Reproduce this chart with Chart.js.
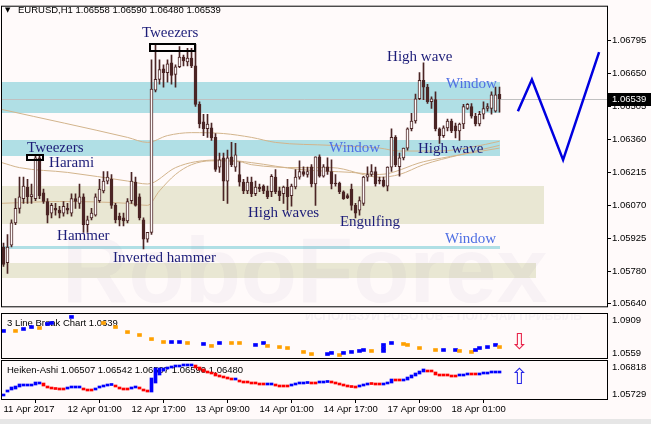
<!DOCTYPE html>
<html>
<head>
<meta charset="utf-8">
<script src="https://cdn.jsdelivr.net/npm/chart.js@4.4.1/dist/chart.umd.min.js"></script>
<style>
  html, body { margin: 0; padding: 0; background: #fffafa; }
  #wrap { position: relative; width: 651px; height: 424px; overflow: hidden; background: #fffafa; }
  canvas { position: absolute; left: 0; }
  #strip { position: absolute; left: 0; top: 419px; width: 651px; height: 5px; background: #e6e6e6; }
</style>
</head>
<body>
<div id="wrap">
  <canvas id="main" width="651" height="313" style="top:0"></canvas>
  <canvas id="lb" width="651" height="47" style="top:312px"></canvas>
  <canvas id="ha" width="651" height="65" style="top:359px"></canvas>
  <div id="strip"></div>
</div>
<script>
// EURUSD H1 candles, one per hour from 11 Apr 09:00
const opens = [
  1.05887,1.05818,1.05895,1.05993,1.06057,1.06100,1.06151,1.06108,1.06100,1.06279,
  1.06125,1.06087,1.06036,1.06057,1.06049,1.06036,1.06057,1.06036,1.06100,1.06079,
  1.06108,1.05985,1.06015,1.06027,1.06091,1.06134,1.06177,1.06185,1.06070,1.06023,
  1.06015,1.06002,1.06091,1.06172,1.06108,1.06006,1.05921,1.05951,1.06577,1.06624,
  1.06671,1.06654,1.06697,1.06646,1.06680,1.06722,1.06701,1.06718,1.06684,1.06514,
  1.06437,1.06407,1.06411,1.06369,1.06238,1.06279,1.06177,1.06283,1.06238,1.06206,
  1.06172,1.06134,1.06172,1.06121,1.06151,1.06155,1.06134,1.06130,1.06194,1.06134,
  1.06121,1.06151,1.06113,1.06151,1.06194,1.06219,1.06206,1.06240,1.06164,1.06283,
  1.06198,1.06240,1.06219,1.06168,1.06168,1.06130,1.06113,1.06142,1.06070,1.06049,
  1.06079,1.06194,1.06206,1.06219,1.06181,1.06181,1.06155,1.06238,1.06369,1.06240,
  1.06279,1.06322,1.06407,1.06441,1.06539,1.06620,1.06590,1.06526,1.06535,1.06407,
  1.06377,1.06411,1.06441,1.06420,1.06398,1.06428,1.06496,1.06505,1.06462,1.06428,
  1.06471,1.06496,1.06496,1.06484,1.06558
];
const highs = [
  1.05904,1.05942,1.06006,1.06100,1.06194,1.06194,1.06185,1.06164,1.06292,1.06292,
  1.06142,1.06100,1.06079,1.06079,1.06066,1.06087,1.06079,1.06121,1.06121,1.06164,
  1.06121,1.06023,1.06057,1.06121,1.06185,1.06219,1.06219,1.06206,1.06079,1.06036,
  1.06036,1.06100,1.06215,1.06194,1.06121,1.06015,1.05951,1.06710,1.06778,1.06710,
  1.06688,1.06710,1.06731,1.06688,1.06769,1.06731,1.06761,1.06761,1.06778,1.06526,
  1.06471,1.06471,1.06432,1.06386,1.06300,1.06300,1.06313,1.06347,1.06343,1.06262,
  1.06185,1.06194,1.06194,1.06177,1.06164,1.06160,1.06155,1.06206,1.06228,1.06151,
  1.06155,1.06185,1.06164,1.06228,1.06266,1.06240,1.06238,1.06249,1.06283,1.06292,
  1.06249,1.06279,1.06270,1.06206,1.06172,1.06134,1.06121,1.06164,1.06079,1.06108,
  1.06198,1.06240,1.06249,1.06238,1.06194,1.06194,1.06240,1.06407,1.06377,1.06300,
  1.06322,1.06411,1.06475,1.06560,1.06654,1.06697,1.06603,1.06548,1.06569,1.06411,
  1.06420,1.06450,1.06450,1.06432,1.06432,1.06514,1.06518,1.06518,1.06475,1.06484,
  1.06526,1.06518,1.06569,1.06590,1.06590
];
const lows = [
  1.05801,1.05771,1.05887,1.05985,1.06036,1.06079,1.06079,1.06079,1.06091,1.06100,
  1.06079,1.05993,1.06015,1.06027,1.06015,1.06023,1.06032,1.06023,1.06057,1.06057,
  1.05951,1.05951,1.06006,1.06023,1.06083,1.06125,1.06164,1.06057,1.05993,1.05980,
  1.05980,1.05993,1.06079,1.06066,1.06006,1.05878,1.05908,1.05942,1.06569,1.06603,
  1.06590,1.06612,1.06603,1.06590,1.06676,1.06684,1.06684,1.06676,1.06505,1.06411,
  1.06377,1.06369,1.06356,1.06219,1.06215,1.06091,1.06079,1.06240,1.06219,1.06155,
  1.06121,1.06121,1.06108,1.06113,1.06130,1.06121,1.06100,1.06108,1.06121,1.06091,
  1.06079,1.06049,1.06066,1.06142,1.06185,1.06198,1.06194,1.06151,1.06070,1.06194,
  1.06194,1.06206,1.06142,1.06155,1.06121,1.06096,1.06100,1.06049,1.06015,1.06027,
  1.06070,1.06177,1.06198,1.06155,1.06164,1.06151,1.06134,1.06219,1.06240,1.06198,
  1.06270,1.06313,1.06398,1.06432,1.06535,1.06535,1.06518,1.06496,1.06398,1.06343,
  1.06369,1.06398,1.06390,1.06367,1.06356,1.06407,1.06492,1.06454,1.06420,1.06420,
  1.06450,1.06484,1.06471,1.06480,1.06480
];
const closes = [
  1.05810,1.05887,1.05993,1.06057,1.06108,1.06155,1.06108,1.06117,1.06279,1.06113,
  1.06087,1.06027,1.06070,1.06049,1.06036,1.06066,1.06049,1.06100,1.06087,1.06108,
  1.05985,1.06006,1.06036,1.06108,1.06142,1.06177,1.06194,1.06070,1.06006,1.06006,
  1.06002,1.06087,1.06177,1.06070,1.06015,1.05921,1.05951,1.06582,1.06624,1.06667,
  1.06654,1.06693,1.06642,1.06680,1.06722,1.06705,1.06718,1.06684,1.06514,1.06428,
  1.06407,1.06428,1.06367,1.06228,1.06270,1.06177,1.06279,1.06249,1.06292,1.06172,
  1.06134,1.06172,1.06121,1.06151,1.06142,1.06134,1.06108,1.06198,1.06130,1.06113,
  1.06151,1.06108,1.06155,1.06194,1.06219,1.06206,1.06219,1.06164,1.06283,1.06198,
  1.06240,1.06219,1.06164,1.06164,1.06130,1.06100,1.06104,1.06070,1.06036,1.06091,
  1.06194,1.06206,1.06219,1.06164,1.06177,1.06155,1.06238,1.06369,1.06249,1.06279,
  1.06322,1.06407,1.06441,1.06539,1.06620,1.06590,1.06526,1.06539,1.06407,1.06377,
  1.06411,1.06441,1.06398,1.06398,1.06428,1.06505,1.06514,1.06462,1.06428,1.06471,
  1.06496,1.06505,1.06556,1.06556,1.06539
];
const lastPrice = 1.06539;

// moving averages, read at a few bars
const maAIdx = [-0.4,31,36,41,47,55,62,68,82,94,99,109,117,124];
const maAVal = [1.06492,1.06369,1.06347,1.06377,1.06390,1.06386,1.06369,1.06347,1.06334,1.06322,1.06309,1.06309,1.06326,1.06352];
const maBIdx = [-0.4,4,16,31,36,43,48,55,62,74,87,94,105,114,124];
const maBVal = [1.06258,1.06236,1.06215,1.06177,1.06164,1.06236,1.06262,1.06270,1.06258,1.06228,1.06215,1.06206,1.06262,1.06292,1.06322];
const maCIdx = [-0.4,14,31,36,39,43,47,52,59,62,74,82,94,99,105,114,124];
const maCVal = [1.06079,1.06087,1.06079,1.06070,1.06134,1.06206,1.06249,1.06266,1.06262,1.06249,1.06236,1.06236,1.06194,1.06206,1.06249,1.06292,1.06334];

// forecast zigzag
const zigIdx = [128.6,132.1,139.9,148.9];
const zigVal = [1.06484,1.06624,1.06270,1.06744];

// price zones
const zoneHigh = [1.06612,1.06356,1.06155,1.05893,1.05818];
const zoneLow  = [1.06475,1.06287,1.05989,1.05878,1.05750];
const zoneEnd  = [124.2,124.2,135,124.2,133];
const zoneKind = ['blue','blue','sand','blue','sand'];

// pattern notes
const noteText  = ['Tweezers','Tweezers','Harami','Hammer','Inverted hammer','High waves','Engulfing','Window','High wave','Window','High wave','Window'];
const noteIdx   = [34.6,5.9,11.4,13.4,27.4,61.1,84.1,81.4,95.9,110.6,103.6,110.4];
const notePrice = [1.06829,1.06324,1.06258,1.05933,1.05840,1.06036,1.05997,1.06322,1.06722,1.06605,1.06317,1.05921];
const boxFrom = [36.6,5.9];
const boxTo   = [47.9,9.9];
const boxHigh = [1.06778,1.06292];
const boxLow  = [1.06748,1.06270];

// 3 line break pane
const lbIdx = [0,3,5,7,9,11,12,17,25,28,31,34,37,40,42,44,46,50,52,54,57,59,63,65,66,69,
  71,75,77,81,82,84,85,87,89,90,92,95,95,95,97,100,101,104,108,110,113,114,117,118,119,121,123,124];
const lbVal = [1.0771,1.0771,1.0787,1.0803,1.0795,1.0828,1.0836,1.0885,1.0836,1.0803,1.0762,1.0738,1.0705,1.0681,
  1.0681,1.0681,1.0673,1.0665,1.0649,1.0673,1.0673,1.0673,1.0657,1.0673,1.0649,1.0640,
  1.0632,1.0600,1.0583,1.0583,1.0592,1.0575,1.0592,1.0600,1.0608,1.0616,1.0608,
  1.0608,1.0632,1.0657,1.0673,1.0665,1.0657,1.0632,1.0616,1.0616,1.0616,1.0608,
  1.0600,1.0616,1.0632,1.0640,1.0657,1.0640];
const lbUp = [1,0,1,1,0,1,1,1,0,0,0,0,0,0,1,1,0,1,0,1,0,0,1,1,0,0,
  0,0,0,1,1,0,1,1,1,1,0,1,1,1,1,0,0,0,0,1,1,0,0,1,1,1,1,0];

// Heiken-Ashi pane
const haOpen = [
  1.05815,1.05929,1.05987,1.06015,1.06073,1.06101,1.06101,1.06101,1.06130,1.06159,
  1.06187,1.06101,1.06044,1.06015,1.06015,1.06015,1.06015,1.06044,1.06044,1.06044,
  1.06044,1.05987,1.05987,1.05987,1.06044,1.06073,1.06101,1.06116,1.06130,1.06073,
  1.06044,1.06015,1.06015,1.06044,1.06073,1.06015,1.05987,1.05929,1.06187,1.06417,
  1.06531,1.06589,1.06617,1.06646,1.06646,1.06675,1.06675,1.06675,1.06703,1.06646,
  1.06589,1.06531,1.06503,1.06474,1.06417,1.06388,1.06359,1.06331,1.06273,1.06273,
  1.06245,1.06216,1.06216,1.06187,1.06159,1.06159,1.06130,1.06130,1.06130,1.06101,
  1.06101,1.06101,1.06101,1.06130,1.06159,1.06159,1.06173,1.06187,1.06187,1.06187,
  1.06187,1.06202,1.06216,1.06187,1.06159,1.06130,1.06101,1.06101,1.06073,1.06073,
  1.06101,1.06130,1.06159,1.06159,1.06159,1.06130,1.06159,1.06187,1.06302,1.06273,
  1.06245,1.06273,1.06331,1.06388,1.06445,1.06503,1.06560,1.06531,1.06503,1.06445,
  1.06417,1.06417,1.06388,1.06388,1.06388,1.06388,1.06417,1.06445,1.06445,1.06417,
  1.06445,1.06445,1.06474,1.06474,1.06474
];
const haClose = [
  1.05872,1.05987,1.06073,1.06101,1.06159,1.06159,1.06130,1.06130,1.06216,1.06216,
  1.06101,1.06044,1.06015,1.06001,1.05987,1.05987,1.06044,1.06058,1.06073,1.06073,
  1.05987,1.05958,1.05958,1.06044,1.06101,1.06130,1.06130,1.06130,1.06073,1.06015,
  1.05987,1.05987,1.06073,1.06101,1.06015,1.05958,1.05929,1.06331,1.06617,1.06617,
  1.06617,1.06646,1.06675,1.06675,1.06703,1.06703,1.06703,1.06703,1.06617,1.06560,
  1.06503,1.06474,1.06445,1.06388,1.06359,1.06331,1.06302,1.06273,1.06302,1.06216,
  1.06187,1.06187,1.06159,1.06159,1.06130,1.06130,1.06159,1.06159,1.06101,1.06073,
  1.06073,1.06073,1.06130,1.06159,1.06187,1.06187,1.06187,1.06159,1.06159,1.06216,
  1.06216,1.06216,1.06187,1.06159,1.06130,1.06101,1.06073,1.06058,1.06044,1.06101,
  1.06159,1.06187,1.06144,1.06130,1.06130,1.06159,1.06216,1.06302,1.06245,1.06245,
  1.06302,1.06359,1.06417,1.06474,1.06531,1.06589,1.06503,1.06503,1.06417,1.06388,
  1.06388,1.06388,1.06359,1.06359,1.06417,1.06445,1.06445,1.06417,1.06417,1.06445,
  1.06474,1.06474,1.06503,1.06503,1.06503
];

// axes
const mainTicks = [1.05640,1.05780,1.05925,1.06070,1.06215,1.06360,1.06505,1.06650,1.06795];
const lbTicks = [1.0909,1.0559];
const haTicks = [1.06818,1.05729];
const tickIdx = [0,16,32,48,64,80,96,112];
const tickText = ['11 Apr 2017','12 Apr 01:00','12 Apr 17:00','13 Apr 09:00','14 Apr 01:00','14 Apr 17:00','17 Apr 09:00','18 Apr 01:00'];

const BG = '#fffafa';
const INK = '#4b2525';
const TAN = '#d2b48c';
const ZONE_BLUE = '#b0dfe5';
const ZONE_SAND = '#e9e7d3';
const AX_FONT = '9.5px "Liberation Sans", Arial, sans-serif';
const X_MIN = -0.375, X_MAX = 150.875;

function paintBg(c) {
  const ctx = c.ctx;
  ctx.save();
  ctx.fillStyle = BG;
  ctx.fillRect(0, 0, c.width, c.height);
  ctx.restore();
}

function frame(c) {
  const {ctx, chartArea: a} = c;
  ctx.save();
  ctx.strokeStyle = '#000';
  ctx.lineWidth = 1;
  ctx.strokeRect(a.left - 0.5, a.top - 0.5, a.right - a.left + 1, a.bottom - a.top + 1);
  ctx.restore();
}

function paneLabels(c, values) {
  const {ctx, chartArea: a, scales: {y}} = c;
  ctx.save();
  ctx.font = AX_FONT;
  ctx.fillStyle = '#000';
  ctx.textAlign = 'left';
  ctx.textBaseline = 'middle';
  values.forEach(v => {
    let py = y.getPixelForValue(v);
    py = Math.max(a.top + 6, Math.min(a.bottom - 5, py));
    ctx.fillText(v.toString(), a.right + 5, py);
  });
  ctx.restore();
}

function xAxis(show) {
  const axis = {
    type: 'linear', min: X_MIN, max: X_MAX, display: show, offset: false,
    afterBuildTicks: s => { s.ticks = tickIdx.map(v => ({value: v})); },
    ticks: {
      autoSkip: false, maxRotation: 0, align: 'start', padding: 1, color: '#000',
      font: {family: '"Liberation Sans", Arial, sans-serif', size: 9.5},
      callback: (v, i) => tickText[i]
    },
    grid: {drawOnChartArea: false, drawTicks: true, tickLength: 4, color: '#000'},
    border: {display: false}
  };
  if (show) axis.afterFit = s => { s.height = 25; };
  return axis;
}

function sideAxis(min, max) {
  return {
    position: 'right', min: min, max: max,
    afterFit: s => { s.width = 44; },
    ticks: {display: false},
    grid: {display: false},
    border: {display: false}
  };
}

const baseOpts = {
  responsive: false,
  animation: false,
  events: [],
  plugins: {legend: {display: false}, tooltip: {enabled: false}}
};

// ---------- main price chart ----------
const mainDeco = {
  id: 'mainDeco',
  beforeDraw: paintBg,
  beforeDatasetsDraw(c) {
    const {ctx, chartArea: a, scales: {x, y}} = c;
    ctx.save();
    ctx.beginPath();
    ctx.rect(a.left, a.top, a.width, a.height);
    ctx.clip();
    for (let k = 0; k < zoneHigh.length; k++) {
      const x1 = Math.round(x.getPixelForValue(zoneEnd[k]));
      const y0 = Math.round(y.getPixelForValue(zoneHigh[k]));
      const y1 = Math.round(y.getPixelForValue(zoneLow[k]));
      ctx.fillStyle = zoneKind[k] === 'blue' ? ZONE_BLUE : ZONE_SAND;
      ctx.fillRect(a.left, y0, x1 - a.left, Math.max(2, y1 - y0));
    }
    const py = Math.round(y.getPixelForValue(lastPrice)) + 0.5;
    ctx.strokeStyle = '#c0c0c0';
    ctx.lineWidth = 1;
    ctx.beginPath();
    ctx.moveTo(a.left, py);
    ctx.lineTo(a.right, py);
    ctx.stroke();
    ctx.font = 'bold 92px "Liberation Sans", Arial, sans-serif';
    ctx.fillStyle = 'rgba(110,100,150,0.05)';
    ctx.textAlign = 'left';
    ctx.textBaseline = 'alphabetic';
    ctx.fillText('RoboForex', 62, 302);
    ctx.restore();
  },
  afterDatasetsDraw(c) {
    const {ctx, scales: {x, y}} = c;
    ctx.save();
    ctx.strokeStyle = '#000';
    ctx.lineWidth = 2;
    for (let k = 0; k < boxFrom.length; k++) {
      const x0 = x.getPixelForValue(boxFrom[k]), x1 = x.getPixelForValue(boxTo[k]);
      const y0 = y.getPixelForValue(boxHigh[k]), y1 = y.getPixelForValue(boxLow[k]);
      ctx.strokeRect(Math.round(x0), Math.round(y0), Math.round(x1 - x0), Math.round(y1 - y0));
    }
    ctx.font = '15px "Liberation Serif", "Times New Roman", serif';
    ctx.textAlign = 'left';
    ctx.textBaseline = 'middle';
    noteText.forEach((t, k) => {
      ctx.fillStyle = t === 'Window' ? '#4f6fe3' : '#1c1c78';
      ctx.fillText(t, x.getPixelForValue(noteIdx[k]), y.getPixelForValue(notePrice[k]));
    });
    ctx.restore();
  },
  afterDraw(c) {
    const {ctx, chartArea: a, scales: {y}} = c;
    frame(c);
    ctx.save();
    const py = Math.round(y.getPixelForValue(lastPrice));
    ctx.fillStyle = '#000';
    ctx.fillRect(a.right, py - 6, c.width - a.right, 13);
    ctx.fillStyle = '#fff';
    ctx.font = AX_FONT;
    ctx.textAlign = 'left';
    ctx.textBaseline = 'middle';
    ctx.fillText(lastPrice.toFixed(5), a.right + 5, py + 0.5);
    ctx.fillStyle = '#000';
    ctx.font = '7px "DejaVu Sans", sans-serif';
    ctx.fillText('\u25BC', 5, 10);
    ctx.font = AX_FONT;
    ctx.fillText('EURUSD,H1 1.06558 1.06590 1.06480 1.06539', 18, 10.5);
    ctx.restore();
  }
};

new Chart(document.getElementById('main'), {
  type: 'bar',
  data: {
    datasets: [
      {type: 'line', order: 0, data: zigIdx.map((v, i) => ({x: v, y: zigVal[i]})),
        borderColor: '#0000e0', borderWidth: 2.5, pointRadius: 0, tension: 0},
      {type: 'bar', order: 1, grouped: false, barThickness: 3, minBarLength: 1,
        data: opens.map((o, i) => ({x: i, y: [o, closes[i]]})),
        backgroundColor: opens.map((o, i) => closes[i] >= o ? BG : INK),
        borderColor: INK, borderWidth: 1, borderSkipped: false},
      {type: 'bar', order: 2, grouped: false, barThickness: 1,
        data: highs.map((h, i) => ({x: i, y: [lows[i], h]})),
        backgroundColor: INK, borderWidth: 0},
      {type: 'line', order: 3, data: maAIdx.map((v, i) => ({x: v, y: maAVal[i]})),
        borderColor: TAN, borderWidth: 1, pointRadius: 0, cubicInterpolationMode: 'monotone'},
      {type: 'line', order: 3, data: maBIdx.map((v, i) => ({x: v, y: maBVal[i]})),
        borderColor: TAN, borderWidth: 1, pointRadius: 0, cubicInterpolationMode: 'monotone'},
      {type: 'line', order: 3, data: maCIdx.map((v, i) => ({x: v, y: maCVal[i]})),
        borderColor: TAN, borderWidth: 1, pointRadius: 0, cubicInterpolationMode: 'monotone'}
    ]
  },
  options: Object.assign({}, baseOpts, {
    layout: {padding: {top: 2, bottom: 2, left: 2, right: 0}},
    scales: {
      x: xAxis(false),
      y: {
        position: 'right', min: 1.05626, max: 1.06944,
        afterBuildTicks: s => { s.ticks = mainTicks.map(v => ({value: v})); },
        afterFit: s => { s.width = 44; },
        ticks: {autoSkip: false, padding: 1, color: '#000',
          font: {family: '"Liberation Sans", Arial, sans-serif', size: 9.5},
          callback: v => Number(v).toFixed(5)},
        grid: {drawOnChartArea: false, drawTicks: true, tickLength: 4, color: '#000'},
        border: {display: false}
      }
    }
  }),
  plugins: [mainDeco]
});

// ---------- 3 line break pane ----------
const lbDeco = {
  id: 'lbDeco',
  beforeDraw: paintBg,
  beforeDatasetsDraw(c) {
    const {ctx, chartArea: a} = c;
    ctx.save();
    ctx.beginPath();
    ctx.rect(a.left, a.top, a.width, a.height);
    ctx.clip();
    ctx.font = 'bold 12px "Liberation Sans", Arial, sans-serif';
    ctx.fillStyle = 'rgba(110,100,150,0.06)';
    ctx.textBaseline = 'alphabetic';
    ctx.fillText('ИСПОЛЬЗУЙ РОБОТОВ – ПОЛУЧАЙ ПРИБЫЛЬ', 305, 8);
    ctx.restore();
    ctx.save();
    ctx.font = AX_FONT;
    ctx.fillStyle = '#000';
    ctx.textBaseline = 'middle';
    ctx.fillText('3 Line Break Chart 1.0639', 7, 11.5);
    ctx.restore();
  },
  afterDraw(c) {
    const {ctx, scales: {x, y}} = c;
    frame(c);
    paneLabels(c, lbTicks);
    ctx.save();
    ctx.font = '22px "DejaVu Sans", sans-serif';
    ctx.fillStyle = '#e8234a';
    ctx.textAlign = 'center';
    ctx.textBaseline = 'middle';
    ctx.fillText('\u21E9', x.getPixelForValue(128.9), y.getPixelForValue(1.0673));
    ctx.restore();
  }
};

new Chart(document.getElementById('lb'), {
  type: 'bar',
  data: {
    datasets: [{
      grouped: false, barThickness: 4,
      data: lbIdx.map((v, i) => ({x: v, y: [lbVal[i] - 0.0012, lbVal[i] + 0.0012]})),
      backgroundColor: lbUp.map(u => u ? '#0000ff' : '#ffa000'),
      borderWidth: 0
    }]
  },
  options: Object.assign({}, baseOpts, {
    layout: {padding: {top: 2, bottom: 1, left: 2, right: 0}},
    scales: {x: xAxis(false), y: sideAxis(1.05508, 1.0909)}
  }),
  plugins: [lbDeco]
});

// ---------- Heiken-Ashi pane ----------
const haDeco = {
  id: 'haDeco',
  beforeDraw: paintBg,
  beforeDatasetsDraw(c) {
    const ctx = c.ctx;
    ctx.save();
    ctx.font = AX_FONT;
    ctx.fillStyle = '#000';
    ctx.textBaseline = 'middle';
    ctx.fillText('Heiken-Ashi 1.06507 1.06542 1.06507 1.06590 1.06480', 7, 11);
    ctx.restore();
  },
  afterDraw(c) {
    const {ctx, scales: {x, y}} = c;
    frame(c);
    paneLabels(c, haTicks);
    ctx.save();
    ctx.font = '22px "DejaVu Sans", sans-serif';
    ctx.fillStyle = '#2a2ae6';
    ctx.textAlign = 'center';
    ctx.textBaseline = 'middle';
    ctx.fillText('\u21E7', x.getPixelForValue(128.9), y.getPixelForValue(1.06331));
    ctx.restore();
  }
};

new Chart(document.getElementById('ha'), {
  type: 'bar',
  data: {
    datasets: [{
      grouped: false, barThickness: 3, minBarLength: 2,
      data: haOpen.map((o, i) => ({x: i, y: [o, haClose[i]]})),
      backgroundColor: haOpen.map((o, i) => haClose[i] >= o ? '#0000ff' : '#ff0000'),
      borderWidth: 0
    }]
  },
  options: Object.assign({}, baseOpts, {
    layout: {padding: {top: 2, bottom: 0, left: 2, right: 0}},
    scales: {x: xAxis(true), y: sideAxis(1.05729, 1.06818)}
  }),
  plugins: [haDeco]
});
</script>
</body>
</html>
